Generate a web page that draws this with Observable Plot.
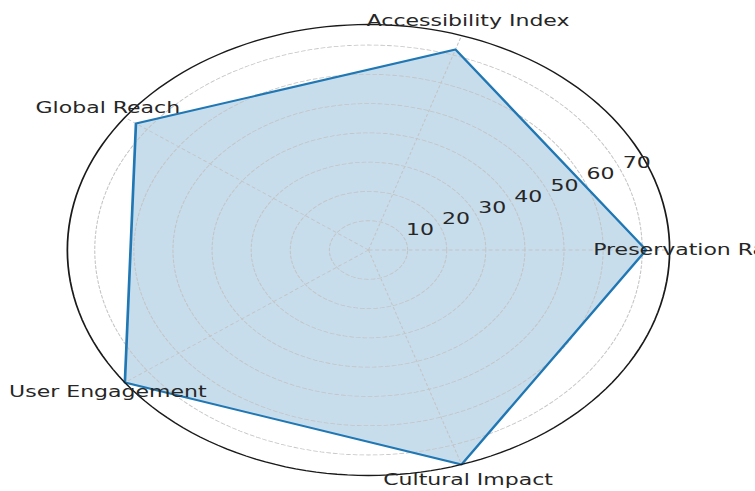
<!DOCTYPE html>
<html>
<head>
<meta charset="utf-8">
<script src="https://cdn.jsdelivr.net/npm/d3@7"></script>
<script src="https://cdn.jsdelivr.net/npm/@observablehq/plot@0.6"></script>
<style>
  html, body { margin: 0; padding: 0; background: #fff; overflow: hidden; }
  #chart { width: 755px; height: 491px; overflow: hidden; }
</style>
</head>
<body>
<div id="chart"></div>
<script>
// ---- data ----
const categories = ["Preservation Rate", "Accessibility Index", "Global Reach", "User Engagement", "Cultural Impact"];
const values = [71, 72, 73.5, 77, 77];
const radialTicks = [10, 20, 30, 40, 50, 60, 70];
const rMax = 77;

// ---- layout helpers ----
const W = 566, H = 491;           // drawn un-stretched, then stretched to 755 wide
const OUT_W = 755;
const n = categories.length;
const angle = i => (2 * Math.PI * i) / n;
const polar = (r, a) => ({x: r * Math.cos(a), y: r * Math.sin(a)});

const polygon = values.map((v, i) => ({category: categories[i], ...polar(v, angle(i))}));
const sweep = d3.range(0, 361, 2).map(deg => deg * Math.PI / 180);
const rings = radialTicks.flatMap(t => sweep.map(a => ({ring: t, ...polar(t, a)})));
const outer = sweep.map(a => polar(rMax, a));
const spokes = categories.map((c, i) => ({c, ...polar(rMax, angle(i))}));
const labels = categories.map((c, i) => ({c, ...polar(rMax * 1.07, angle(i))}));
const tickLabels = radialTicks.map(t => ({t, ...polar(t, 22.5 * Math.PI / 180)}));

const font = "DejaVu Sans, Liberation Sans, sans-serif";
const blue = "#1f77b4";
const gridColor = "#c4c4c4";

const svg = Plot.plot({
  width: W,
  height: H,
  marginLeft: 50,
  marginRight: 64.5,
  marginTop: 24,
  marginBottom: 16,
  style: {fontFamily: font, background: "#fff"},
  x: {domain: [-rMax, rMax], axis: null},
  y: {domain: [-rMax, rMax], axis: null},
  marks: [
    // filled polygon
    Plot.line(polygon, {x: "x", y: "y", curve: "linear-closed", fill: blue, fillOpacity: 0.25, stroke: "none"}),
    // grid rings
    Plot.line(rings, {x: "x", y: "y", z: "ring", stroke: gridColor, strokeWidth: 0.8, strokeDasharray: "3,2"}),
    // spokes
    Plot.link(spokes, {x1: () => 0, y1: () => 0, x2: "x", y2: "y", stroke: gridColor, strokeWidth: 0.8, strokeDasharray: "3,2"}),
    // outline
    Plot.line(polygon, {x: "x", y: "y", curve: "linear-closed", stroke: blue, strokeWidth: 2, fill: "none"}),
    // outer circle
    Plot.line(outer, {x: "x", y: "y", stroke: "#1a1a1a", strokeWidth: 1.3}),
    // radial tick labels
    Plot.text(tickLabels, {x: "x", y: "y", text: d => String(d.t), textAnchor: "start", dx: 1, dy: -8.7, fontSize: 16.5, fill: "#262626"}),
    // category labels
    Plot.text(labels, {x: "x", y: "y", text: "c", textAnchor: "middle", fontSize: 16.5, fill: "#262626"})
  ]
});

svg.setAttribute("width", OUT_W);
svg.setAttribute("height", H);
svg.setAttribute("preserveAspectRatio", "none");
svg.style.width = OUT_W + "px";
svg.style.height = H + "px";
svg.style.maxWidth = "none";
svg.style.overflow = "hidden";
document.getElementById("chart").appendChild(svg);
</script>
</body>
</html>
